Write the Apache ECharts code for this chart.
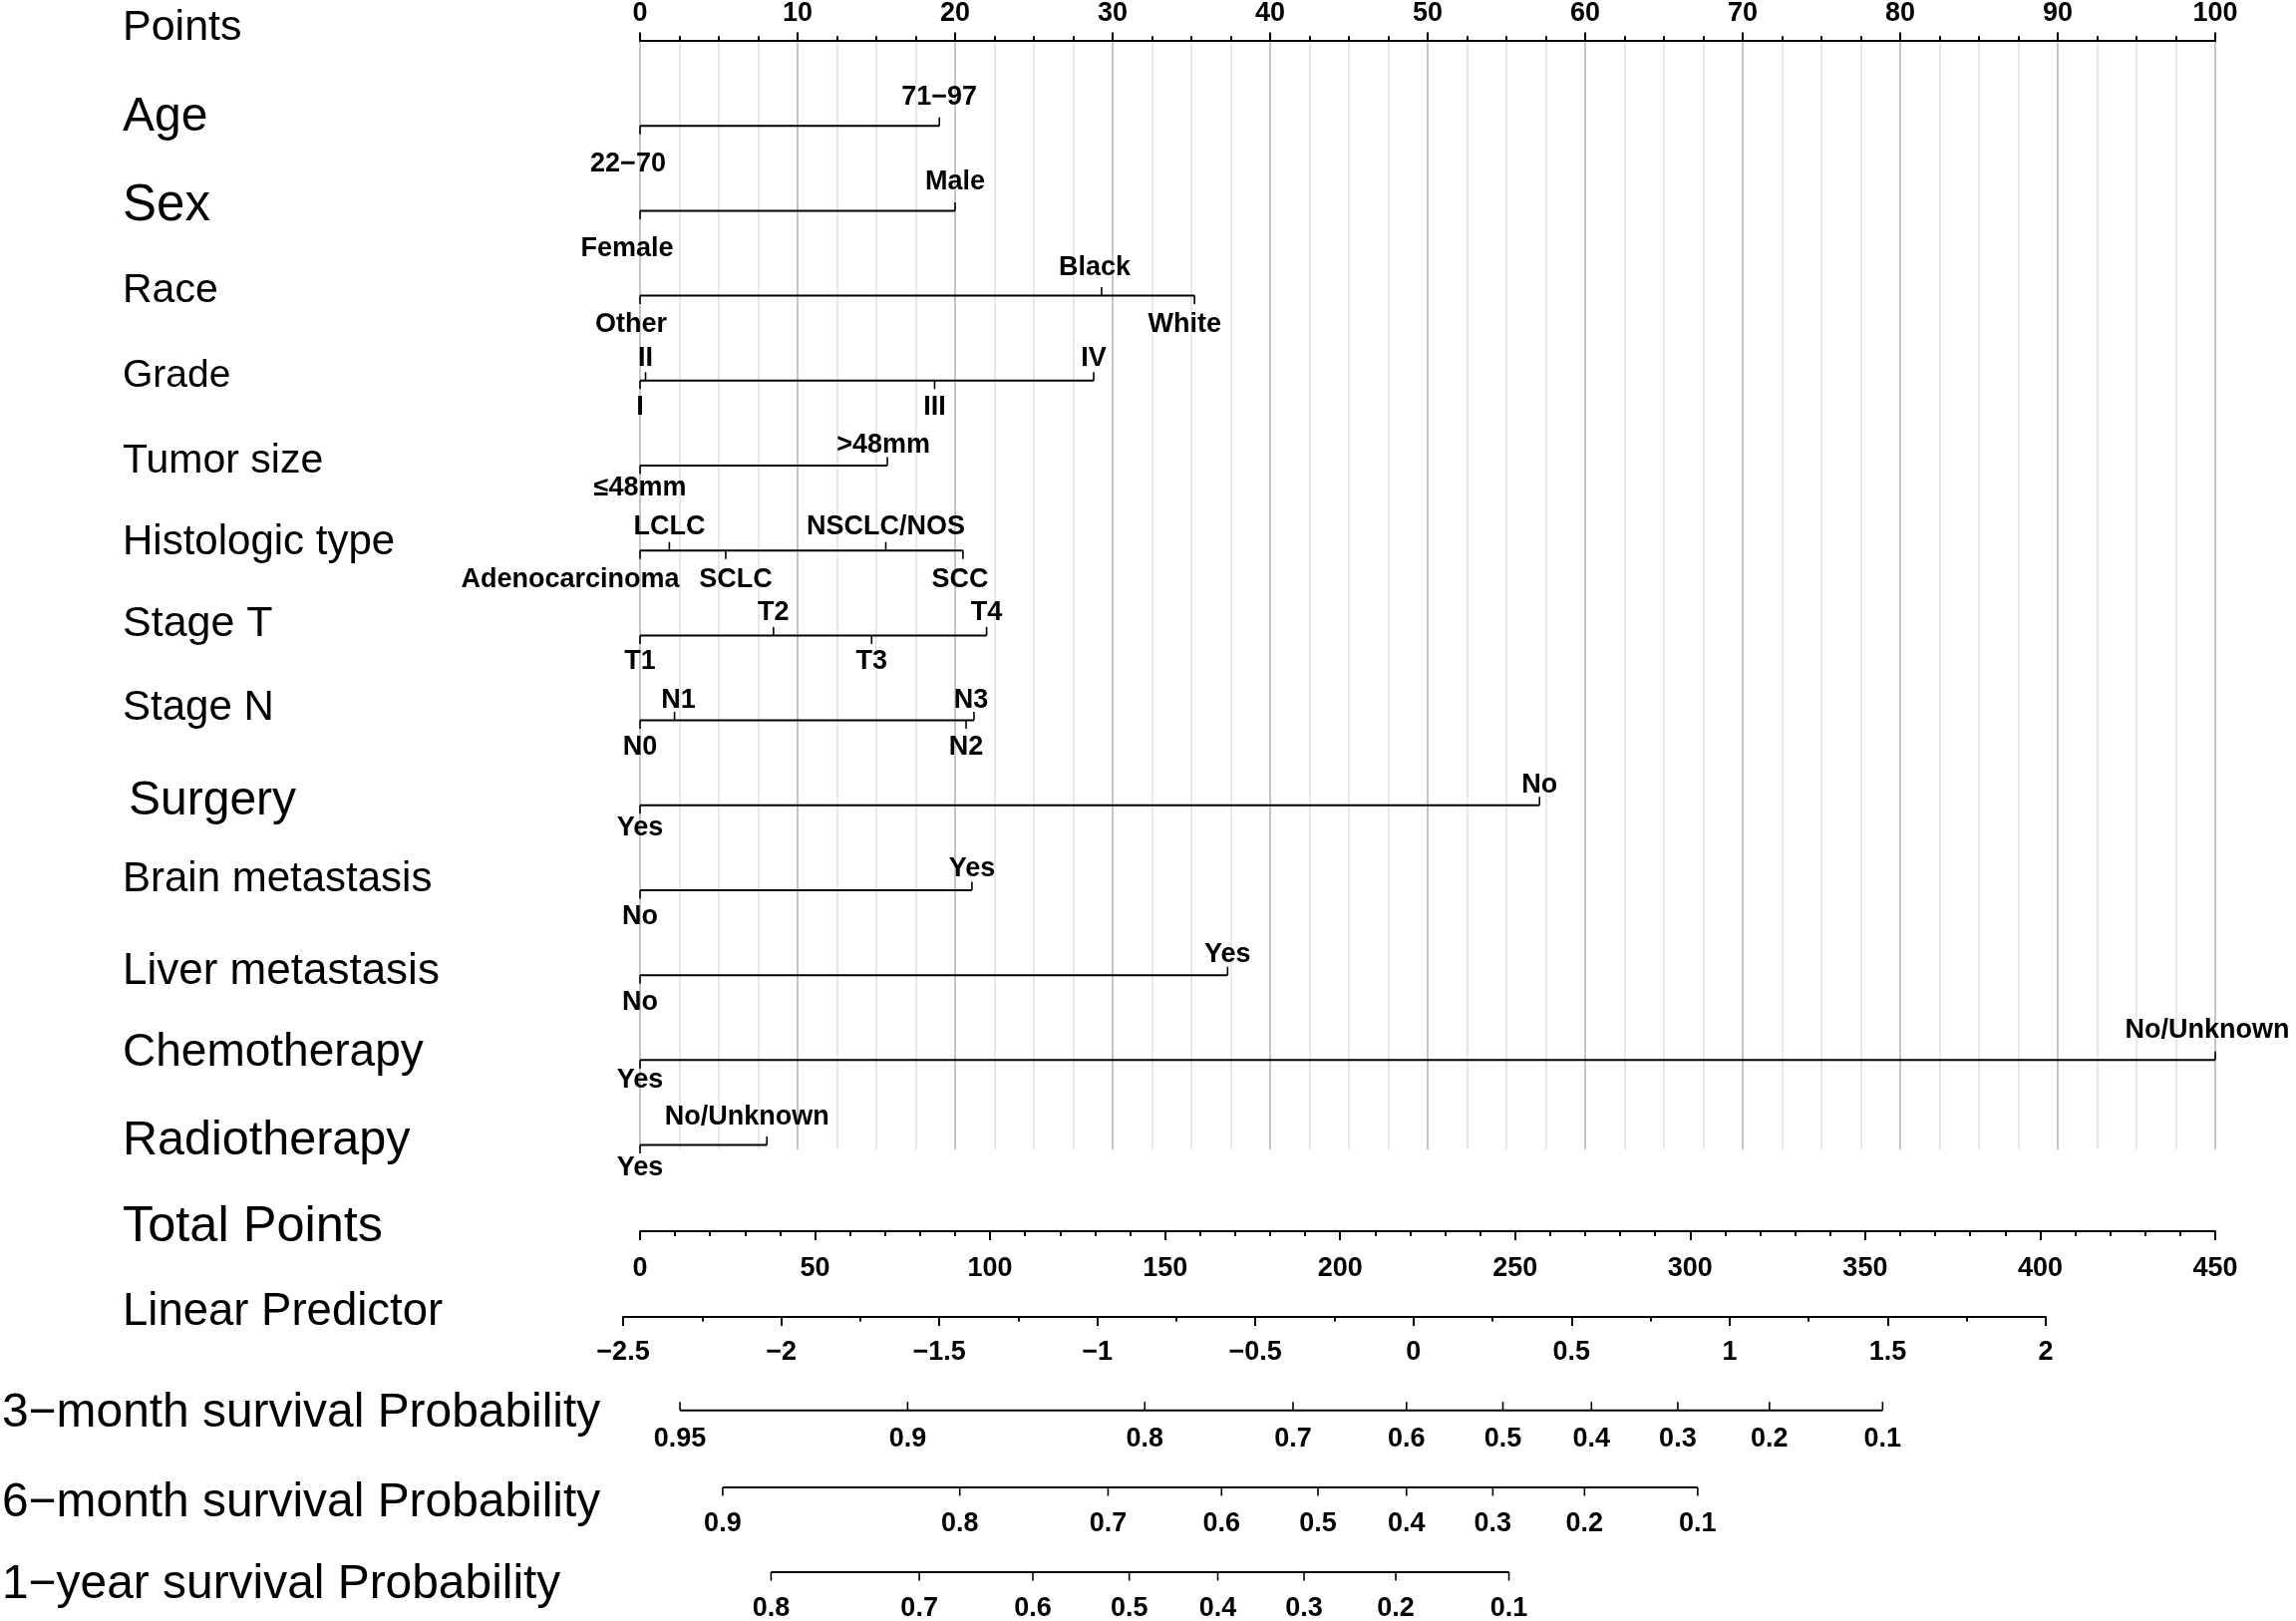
<!DOCTYPE html>
<html><head><meta charset="utf-8">
<script src="https://cdn.jsdelivr.net/npm/echarts@6/dist/echarts.min.js"></script>
<style>html,body{margin:0;padding:0;background:#fff}#c{width:2303px;height:1626px}</style>
</head><body><div id="c"></div>
<script>
// ---------------- DATA ----------------
const pointsRange = [0, 100];
const totalPointsRange = [0, 450];
const linearPredictorRange = [-2.5, 2];

const rowNames = ['Age','Sex','Race','Grade','Tumor size','Histologic type','Stage T','Stage N',
  'Surgery','Brain metastasis','Liver metastasis','Chemotherapy','Radiotherapy'];
const rowLevels = [
  ['22\u221270','71\u221297'],
  ['Female','Male'],
  ['Other','Black','White'],
  ['I','II','III','IV'],
  ['\u226448mm','>48mm'],
  ['Adenocarcinoma','LCLC','SCLC','NSCLC/NOS','SCC'],
  ['T1','T2','T3','T4'],
  ['N0','N1','N2','N3'],
  ['Yes','No'],
  ['No','Yes'],
  ['No','Yes'],
  ['Yes','No/Unknown'],
  ['Yes','No/Unknown']
];
const rowPoints = [
  [0, 19.0],
  [0, 20.0],
  [0, 29.3, 35.2],
  [0, 0.35, 18.7, 28.8],
  [0, 15.7],
  [0, 1.86, 5.44, 15.6, 20.5],
  [0, 8.47, 14.7, 22.0],
  [0, 2.19, 20.7, 21.2],
  [0, 57.1],
  [0, 21.07],
  [0, 37.3],
  [0, 100],
  [0, 8.05]
];
const probNames = ['3\u2212month survival Probability','6\u2212month survival Probability','1\u2212year survival Probability'];
const probLabels = [
  ['0.95','0.9','0.8','0.7','0.6','0.5','0.4','0.3','0.2','0.1'],
  ['0.9','0.8','0.7','0.6','0.5','0.4','0.3','0.2','0.1'],
  ['0.8','0.7','0.6','0.5','0.4','0.3','0.2','0.1']
];
// positions of probability ticks on the linear predictor scale
const probLP = [
  [-2.320,-1.600,-0.850,-0.381,-0.022,0.283,0.563,0.836,1.126,1.484],
  [-2.185,-1.435,-0.966,-0.607,-0.302,-0.022,0.251,0.541,0.899],
  [-2.032,-1.563,-1.204,-0.899,-0.619,-0.346,-0.056,0.302]
];

// ---------------- LAYOUT / STYLE ----------------
const FONT = '"Liberation Sans", Arial, Helvetica, sans-serif';
const ROWS_IN_GRID = 13.052;
const labelSide = [['d','u'],['d','u'],['d','u','d'],['d','u','d','u'],['d','u'],['d','u','d','u','d'],
  ['d','u','d','u'],['d','u','d','u'],['d','u'],['d','u'],['d','u'],['d','u'],['d','u']];
const labelGap = [[-29,38],[-28.5,38],[-28.5,29],[-22,27],[-20,23],[-24,29.5],[-23,25.7],[-20,27],
  [-20,23],[-21.5,27],[-20.6,27],[-30,20],[-27.6,23]];
const labelDx = {'0|0':-12,'1|0':-13,'2|0':-9,'2|1':-7,'2|2':-10,'4|1':-4,'5|0':-70,'5|2':10,'5|4':-3,
  '7|1':4,'7|3':-3,'11|1':-8,'12|1':-20};
const titleRow = [0,1,2,3,4,5,6,7,8,9,10,11,12,13,14,15,16.122,17.030,18.028];
const titleSize = [43,48,51,41,39,41,42,43,42,48,42,44,46,48.5,50.5,45.5,47.9,47.9,47.9];
const titleDy = [-13,-8,-4,-4.5,-5,-4.7,-8,-11.5,-11.7,-4,-11,-3,-7.5,-3.5,-3,-2.5,3.5,15.5,13];
const titleX = [123,123,123,123,123,123,123,123,123,129,123,123,123,123,123,123,2,2,2];
const probRowPos = [16.122, 17.030, 18.028];
const probTickUp = [true, false, false];
const probLabelGap = [29, 37, 36];

const titles = ['Points'].concat(rowNames, ['Total Points','Linear Predictor'], probNames);

const chart = echarts.init(document.getElementById('c'), null, {renderer:'canvas'});

const axisText = {fontSize:27, fontWeight:'bold', fontFamily:FONT, color:'#000'};
const blackLine = {color:'#000', width:2};

const option = {
  animation:false,
  backgroundColor:'#fff',
  grid:[
    {left:642, width:1580, top:40.7, height:1112.3},
    {left:642, width:1580, top:1200, height:35},
    {left:625, width:1427, top:1290, height:31},
    {left:625, width:1427, top:40.7, height:1112.3}
  ],
  xAxis:[
    {gridIndex:0, type:'value', position:'top', min:pointsRange[0], max:pointsRange[1], interval:10,
     axisLine:{show:true, onZero:false, lineStyle:blackLine},
     axisTick:{show:true, length:8.5, lineStyle:blackLine},
     minorTick:{show:true, splitNumber:4, length:4.7, lineStyle:blackLine},
     axisLabel:Object.assign({show:true, margin:14, showMinLabel:true, showMaxLabel:true}, axisText),
     splitLine:{show:true, lineStyle:{color:'#c6c6c6', width:2}},
     minorSplitLine:{show:true, lineStyle:{color:'#e9e9e9', width:2}}},
    {gridIndex:1, type:'value', position:'bottom', min:totalPointsRange[0], max:totalPointsRange[1], interval:50,
     axisLine:{show:true, onZero:false, lineStyle:blackLine},
     axisTick:{show:true, length:9, lineStyle:blackLine},
     minorTick:{show:true, splitNumber:5, length:5, lineStyle:blackLine},
     axisLabel:Object.assign({show:true, margin:24, showMinLabel:true, showMaxLabel:true}, axisText),
     splitLine:{show:false}},
    {gridIndex:2, type:'value', position:'bottom', min:linearPredictorRange[0], max:linearPredictorRange[1], interval:0.5,
     axisLine:{show:true, onZero:false, lineStyle:blackLine},
     axisTick:{show:true, length:9, lineStyle:blackLine},
     minorTick:{show:true, splitNumber:2, length:4.5, lineStyle:blackLine},
     axisLabel:Object.assign({show:true, margin:22, showMinLabel:true, showMaxLabel:true,
        formatter:v => String(v).replace('-', '\u2212')}, axisText),
     splitLine:{show:false}},
    {gridIndex:3, type:'value', min:linearPredictorRange[0], max:linearPredictorRange[1], show:false}
  ],
  yAxis:[
    {gridIndex:0, type:'value', min:0, max:ROWS_IN_GRID, inverse:true, show:false},
    {gridIndex:1, type:'value', min:0, max:1, show:false},
    {gridIndex:2, type:'value', min:0, max:1, show:false},
    {gridIndex:3, type:'value', min:0, max:ROWS_IN_GRID, inverse:true, show:false}
  ],
  series:[
    {
      type:'custom', xAxisIndex:0, yAxisIndex:0, clip:false, silent:true,
      data: rowPoints.map((p,i) => [Math.max.apply(null,p), i+1]),
      renderItem(params, api){
        const i = params.dataIndex, r = i + 1;
        const pts = rowPoints[i];
        const y = api.coord([0, r])[1];
        const xs = pts.map(p => api.coord([p, r])[0]);
        const ch = [{type:'line', shape:{x1:Math.min.apply(null,xs), y1:y, x2:Math.max.apply(null,xs), y2:y},
                     style:{stroke:'#000', lineWidth:2}}];
        pts.forEach((p,k) => {
          const up = labelSide[i][k] === 'u';
          const x = xs[k];
          ch.push({type:'line', shape:{x1:x, y1:y, x2:x, y2: up ? y-8.5 : y+8.5}, style:{stroke:'#000', lineWidth:1.6}});
          ch.push({type:'text', style:{text:rowLevels[i][k], x:x + (labelDx[i+'|'+k] || 0),
            y:y + (up ? labelGap[i][0] : labelGap[i][1]), align:'center', verticalAlign:'middle',
            fontSize:27, fontWeight:'bold', fontFamily:FONT, fill:'#000'}});
        });
        return {type:'group', children:ch};
      }
    },
    {
      type:'custom', xAxisIndex:0, yAxisIndex:0, clip:false, silent:true,
      data: titles.map((t,i) => [0, titleRow[i]]),
      renderItem(params, api){
        const i = params.dataIndex;
        const y = api.coord([0, titleRow[i]])[1] + titleDy[i];
        return {type:'text', style:{text:titles[i], x:titleX[i], y:y, align:'left', verticalAlign:'middle',
          fontSize:titleSize[i], fontFamily:FONT, fill:'#000'}};
      }
    },
    {
      type:'custom', xAxisIndex:3, yAxisIndex:3, clip:false, silent:true,
      data: probLP.map((a,i) => [a[a.length-1], probRowPos[i]]),
      renderItem(params, api){
        const i = params.dataIndex;
        const rp = probRowPos[i];
        const y = api.coord([0, rp])[1];
        const xs = probLP[i].map(v => api.coord([v, rp])[0]);
        const ch = [{type:'line', shape:{x1:xs[0], y1:y, x2:xs[xs.length-1], y2:y}, style:{stroke:'#000', lineWidth:2}}];
        xs.forEach((x,k) => {
          ch.push({type:'line', shape:{x1:x, y1:y, x2:x, y2: probTickUp[i] ? y-8.5 : y+8.5}, style:{stroke:'#000', lineWidth:1.6}});
          ch.push({type:'text', style:{text:probLabels[i][k], x:x, y:y + probLabelGap[i], align:'center', verticalAlign:'middle',
            fontSize:27, fontWeight:'bold', fontFamily:FONT, fill:'#000'}});
        });
        return {type:'group', children:ch};
      }
    }
  ]
};
chart.setOption(option);
</script></body></html>
